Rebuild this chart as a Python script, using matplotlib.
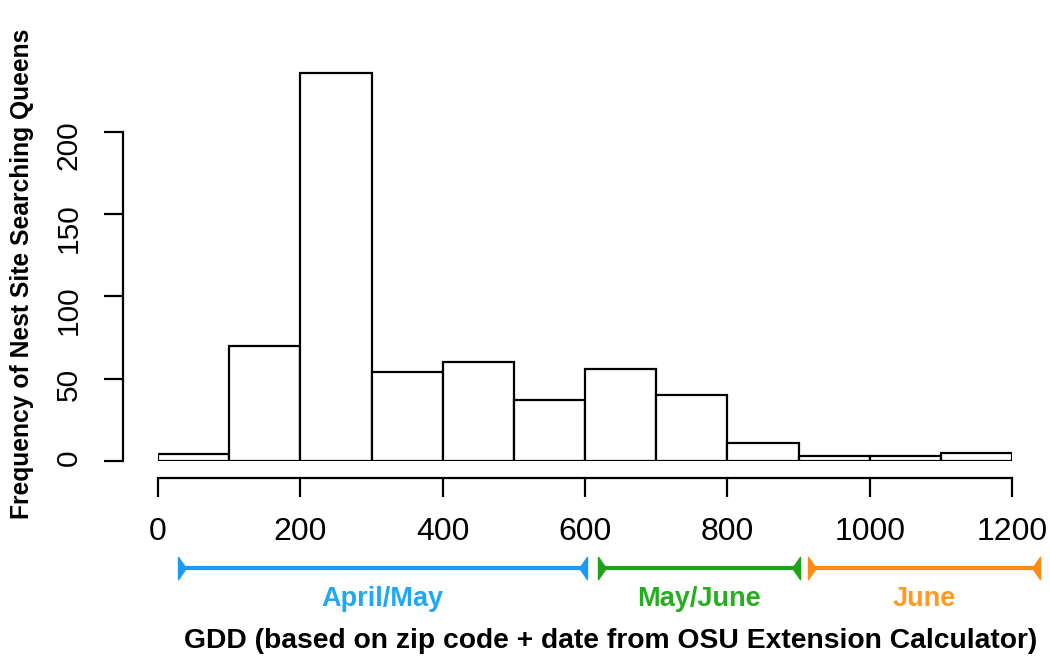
import matplotlib
matplotlib.use("Agg")
import matplotlib.pyplot as plt
from matplotlib.path import Path
from matplotlib.transforms import blended_transform_factory

plt.rcParams['font.family'] = ['Liberation Sans', 'DejaVu Sans']

# Histogram of GDD at which nest-site searching queens were observed
bin_edges = [0, 100, 200, 300, 400, 500, 600, 700, 800, 900, 1000, 1100, 1200]
counts = [4, 70, 236, 54, 60, 37, 56, 40, 11, 3, 3, 5]

x_ticks = [0, 200, 400, 600, 800, 1000, 1200]
y_ticks = [0, 50, 100, 150, 200]

# Seasonal ranges along the GDD axis
season_labels = ["April/May", "May/June", "June"]
season_starts = [28, 618, 913]
season_ends = [603, 902, 1239]
season_line_colors = ["#1a9af2", "#1fa31a", "#ff8a14"]
season_text_colors = ["#21a8f5", "#27ad20", "#ff9b22"]

W, H = 1050, 669
fig = plt.figure(figsize=(W / 100, H / 100), dpi=100)
ax = fig.add_axes([158 / W, (H - 461) / H, 854 / W, (461 - 66) / H])

widths = [b - a for a, b in zip(bin_edges[:-1], bin_edges[1:])]
ax.bar(bin_edges[:-1], counts, width=widths, align='edge',
       facecolor='white', edgecolor='black', linewidth=1.6)

ax.set_xlim(0, 1200)
ax.set_ylim(0, 240)
ax.set_xticks(x_ticks)
ax.set_yticks(y_ticks)
ax.tick_params(axis='both', length=14, width=1.6, color='black')
ax.tick_params(axis='x', labelsize=23, pad=14.5)
ax.tick_params(axis='y', labelsize=21.5, pad=15, labelrotation=90)
for lbl in ax.get_yticklabels():
    lbl.set_va('center')

for side in ('top', 'right'):
    ax.spines[side].set_visible(False)
ax.spines['left'].set_bounds(0, 200)
ax.spines['left'].set_position(('outward', 25))
ax.spines['bottom'].set_bounds(0, 1200)
ax.spines['bottom'].set_position(('outward', 12))
for side in ('left', 'bottom'):
    ax.spines[side].set_linewidth(1.6)

fig.text(22 / W, (H - 274) / H, "Frequency of Nest Site Searching Queens",
         fontsize=17.7, fontweight='bold', rotation=90,
         ha='center', va='center')

# Season range bars with half-arrow end caps
trans = blended_transform_factory(ax.transData, fig.transFigure)
left_cap = Path([(0, -1), (0, 1), (0.7, 0), (0, -1)],
                [Path.MOVETO, Path.LINETO, Path.LINETO, Path.CLOSEPOLY])
right_cap = Path([(0, -1), (0, 1), (-0.7, 0), (0, -1)],
                 [Path.MOVETO, Path.LINETO, Path.LINETO, Path.CLOSEPOLY])
y_bar = (H - 568) / H
y_txt = (H - 599) / H
for lab, x0, x1, lc, tc in zip(season_labels, season_starts, season_ends,
                               season_line_colors, season_text_colors):
    ax.plot([x0, x1], [y_bar, y_bar], color=lc, lw=3.0, transform=trans,
            clip_on=False, solid_capstyle='butt')
    ax.plot([x0], [y_bar], marker=left_cap, ms=16, color=lc, mec=lc,
            transform=trans, clip_on=False)
    ax.plot([x1], [y_bar], marker=right_cap, ms=16, color=lc, mec=lc,
            transform=trans, clip_on=False)
    ax.text((x0 + x1) / 2, y_txt, lab, color=tc, fontsize=19.5,
            fontweight='bold', ha='center', va='center', transform=trans)

fig.text(611 / W, (H - 641) / H,
         "GDD (based on zip code + date from OSU Extension Calculator)",
         fontsize=20.3, fontweight='bold', ha='center', va='center')

fig.savefig("out.png", dpi=100)
